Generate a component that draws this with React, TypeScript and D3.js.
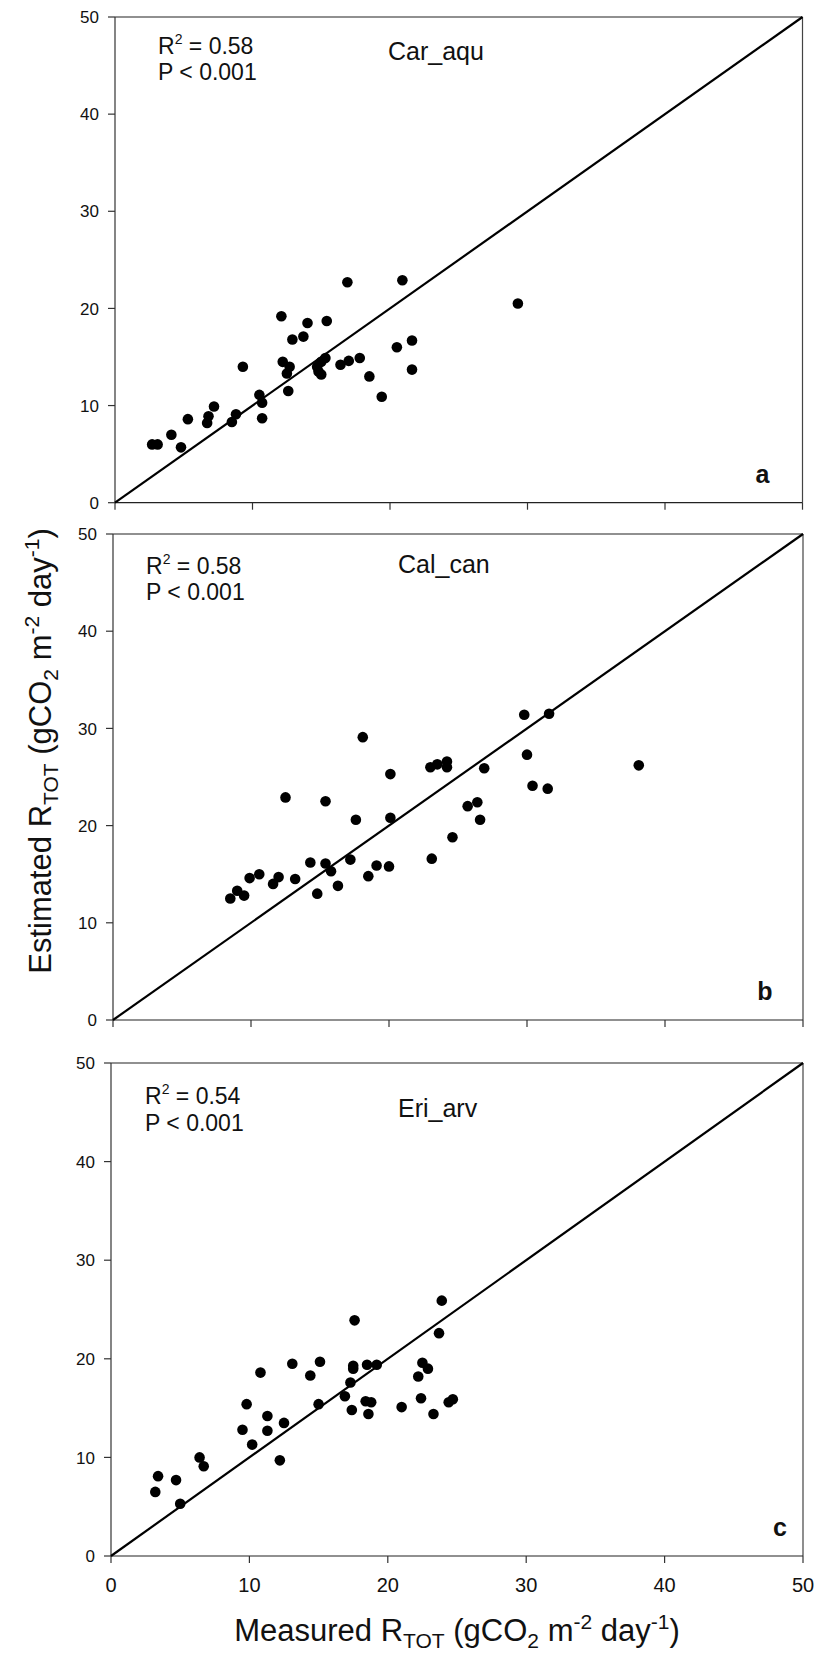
import React from "react";
import * as d3 from "d3";

const tickValues = [0, 10, 20, 30, 40, 50];

const carAquMeasured = [2.7, 3.1, 4.1, 4.8, 5.3, 6.7, 6.8, 7.2, 8.5, 8.8, 9.3, 10.5, 10.7, 10.7, 12.1, 12.2, 12.7, 12.5, 12.6, 12.9, 13.7, 14.0, 15.4, 14.7, 15.0, 15.3, 14.8, 15.0, 16.4, 17.0, 17.8, 16.9, 18.5, 19.4, 20.5, 20.9, 21.6, 21.6, 29.3];
const carAquEstimated = [6.0, 6.0, 7.0, 5.7, 8.6, 8.2, 8.9, 9.9, 8.3, 9.1, 14.0, 11.1, 10.3, 8.7, 19.2, 14.5, 14.0, 13.3, 11.5, 16.8, 17.1, 18.5, 18.7, 14.0, 14.5, 14.9, 13.5, 13.2, 14.2, 14.6, 14.9, 22.7, 13.0, 10.9, 16.0, 22.9, 16.7, 13.7, 20.5];

const calCanMeasured = [8.5, 9.0, 9.5, 9.9, 10.6, 11.6, 12.0, 12.5, 13.2, 14.3, 14.8, 15.4, 15.4, 15.8, 16.3, 17.2, 17.6, 18.1, 18.5, 19.1, 20.0, 20.1, 20.1, 23.1, 23.0, 23.5, 24.2, 24.2, 24.6, 25.7, 26.4, 26.6, 26.9, 29.8, 30.0, 30.4, 31.5, 31.6, 38.1];
const calCanEstimated = [12.5, 13.3, 12.8, 14.6, 15.0, 14.0, 14.7, 22.9, 14.5, 16.2, 13.0, 16.1, 22.5, 15.3, 13.8, 16.5, 20.6, 29.1, 14.8, 15.9, 15.8, 20.8, 25.3, 16.6, 26.0, 26.3, 26.6, 26.0, 18.8, 22.0, 22.4, 20.6, 25.9, 31.4, 27.3, 24.1, 23.8, 31.5, 26.2];

const eriArvMeasured = [3.2, 3.4, 4.7, 5.0, 6.4, 6.7, 9.5, 9.8, 10.2, 10.8, 11.3, 11.3, 12.2, 12.5, 13.1, 14.4, 15.1, 15.0, 16.9, 17.3, 17.4, 17.5, 17.5, 17.6, 18.4, 18.5, 18.6, 18.8, 19.2, 21.0, 22.2, 22.4, 22.5, 22.9, 23.3, 23.7, 23.9, 24.4, 24.7];
const eriArvEstimated = [6.5, 8.1, 7.7, 5.3, 10.0, 9.1, 12.8, 15.4, 11.3, 18.6, 14.2, 12.7, 9.7, 13.5, 19.5, 18.3, 19.7, 15.4, 16.2, 17.6, 14.8, 19.3, 19.0, 23.9, 15.7, 19.4, 14.4, 15.6, 19.4, 15.1, 18.2, 16.0, 19.6, 19.0, 14.4, 22.6, 25.9, 15.6, 15.9];

const speciesNames = ["Car_aqu", "Cal_can", "Eri_arv"];
const r2Labels = ["0.58", "0.58", "0.54"];
const pLabels = ["P < 0.001", "P < 0.001", "P < 0.001"];
const panelLetters = ["a", "b", "c"];

const FONT = "'Liberation Sans', Arial, Helvetica, sans-serif";

const layouts = [
  { left: 115, right: 802.5, top: 17, bottom: 502.7, r2x: 158, r2y: 54, py: 80, spx: 388, spy: 60, letterOff: 40, showX: false },
  { left: 113, right: 803, top: 534, bottom: 1020, r2x: 146, r2y: 574, py: 600, spx: 398, spy: 573, letterOff: 38, showX: false },
  { left: 111, right: 803, top: 1063, bottom: 1556, r2x: 145, r2y: 1104, py: 1131, spx: 398, spy: 1117, letterOff: 23, showX: true },
];

const panels = [
  { xs: carAquMeasured, ys: carAquEstimated },
  { xs: calCanMeasured, ys: calCanEstimated },
  { xs: eriArvMeasured, ys: eriArvEstimated },
].map((d, i) => ({ ...d, ...layouts[i], name: speciesNames[i], r2: r2Labels[i], p: pLabels[i], letter: panelLetters[i] }));

function Panel({ p }: { p: any }) {
  const x = d3.scaleLinear().domain([0, 50]).range([p.left, p.right]);
  const y = d3.scaleLinear().domain([0, 50]).range([p.bottom, p.top]);
  const line = d3.line<number>().x((v) => x(v)).y((v) => y(v));
  const pts = p.xs.map((v: number, i: number) => [v, p.ys[i]]);
  return (
    <g>
      <line x1={x(0)} x2={x(50)} y1={y(50)} y2={y(50)} stroke="#222" strokeWidth={1.2} />
      <line x1={x(50)} x2={x(50)} y1={y(0)} y2={y(50)} stroke="#444" strokeWidth={1.2} />
      <line x1={x(0)} x2={x(0)} y1={y(0)} y2={y(50)} stroke="#333" strokeWidth={1.2} />
      <line x1={x(0)} x2={x(50)} y1={y(0)} y2={y(0)} stroke="#222" strokeWidth={1.2} />
      {tickValues.map((t) => (
        <g key={"y" + t}>
          <line x1={x(0) - 7} x2={x(0)} y1={y(t)} y2={y(t)} stroke="#333" strokeWidth={1.2} />
          <text x={x(0) - 16} y={y(t)} dy="0.36em" textAnchor="end" fontSize={17} fontFamily={FONT} fill="#111">{t}</text>
        </g>
      ))}
      {tickValues.map((t) => (
        <g key={"x" + t}>
          <line x1={x(t)} x2={x(t)} y1={y(0)} y2={y(0) + 7} stroke="#333" strokeWidth={1.2} />
          {p.showX && (
            <text x={x(t)} y={y(0) + 36} textAnchor="middle" fontSize={20} fontFamily={FONT} fill="#111">{t}</text>
          )}
        </g>
      ))}
      <path d={line([0, 50]) as string} stroke="#000" strokeWidth={2.2} fill="none" />
      {pts.map((d: number[], i: number) => (
        <circle key={i} cx={x(d[0])} cy={y(d[1])} r={5.3} fill="#000" />
      ))}
      <text x={p.r2x} y={p.r2y} fontSize={23} fontFamily={FONT} fill="#111">
        R<tspan fontSize={14} dy={-10}>2</tspan><tspan dy={10}> = {p.r2}</tspan>
      </text>
      <text x={p.r2x} y={p.py} fontSize={23} fontFamily={FONT} fill="#111">{p.p}</text>
      <text x={p.spx} y={p.spy} fontSize={25} fontFamily={FONT} fill="#111">{p.name}</text>
      <text x={x(50) - p.letterOff} y={y(0) - 20} textAnchor="middle" fontSize={25} fontWeight="bold" fontFamily={FONT} fill="#111">{p.letter}</text>
    </g>
  );
}

function Title({ x, y, rotate, main }: { x: number; y: number; rotate?: boolean; main: string }) {
  return (
    <text x={x} y={y} textAnchor="middle" fontSize={31} fontFamily={FONT} fill="#111"
      transform={rotate ? `rotate(-90 ${x} ${y})` : undefined}>
      {main} R<tspan fontSize={21} dy={7}>TOT</tspan><tspan dy={-7}> (gCO</tspan><tspan fontSize={21} dy={7}>2</tspan>
      <tspan dy={-7}> m</tspan><tspan fontSize={21} dy={-12}>-2</tspan><tspan dy={12}> day</tspan>
      <tspan fontSize={21} dy={-12}>-1</tspan><tspan dy={12}>)</tspan>
    </text>
  );
}

export default function App() {
  return (
    <svg width={817} height={1661} style={{ position: "absolute", left: 0, top: 0, background: "#fff" }}>
      <rect x={0} y={0} width={817} height={1661} fill="#fff" />
      {panels.map((p, i) => (
        <Panel key={i} p={p} />
      ))}
      <Title x={457} y={1641} main="Measured" />
      <Title x={51} y={751} rotate main="Estimated" />
    </svg>
  );
}
